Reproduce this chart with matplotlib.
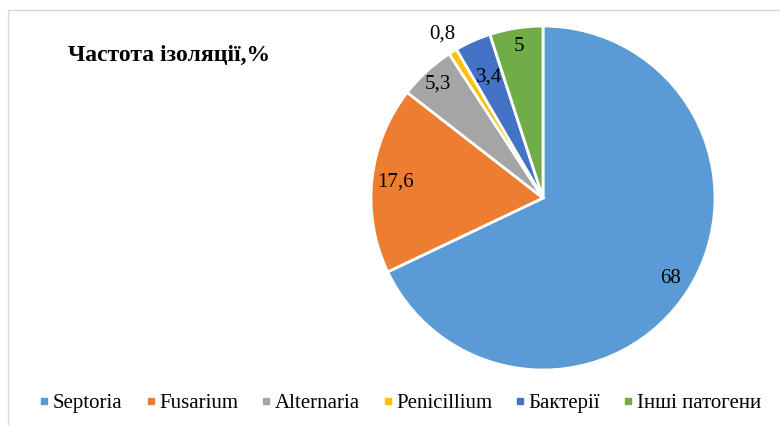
import matplotlib
matplotlib.use("Agg")
import matplotlib.pyplot as plt
from matplotlib.lines import Line2D
from matplotlib.patches import Rectangle
import numpy as np

categories = ["Septoria", "Fusarium", "Alternaria", "Penicillium", "Бактерії", "Інші патогени"]
values = [68, 17.6, 5.3, 0.8, 3.4, 5]
value_labels = ["68", "17,6", "5,3", "0,8", "3,4", "5"]
colors = ["#5B9BD5", "#ED7D31", "#A5A5A5", "#FFC000", "#4472C4", "#70AD47"]
label_dist = [0.88, 0.86, 0.90, 1.12, 0.77, 0.89]
title = "Частота ізоляції,%"

plt.rcParams['font.family'] = ['Liberation Serif', 'DejaVu Serif']

W, H = 780, 425
fig = plt.figure(figsize=(W/100, H/100), dpi=100)

# outer frame
fig.patches.append(Rectangle((8/W, -0.1), 1.2, (H-10)/H + 0.1, transform=fig.transFigure,
                             fill=False, edgecolor="#D9D9D9", linewidth=1.0))

cx, cy, r = 543, 198, 172
ax = fig.add_axes([(cx-r)/W, (H-cy-r)/H, 2*r/W, 2*r/H])
wedges, _ = ax.pie(values, colors=colors, startangle=90, counterclock=False,
                   wedgeprops=dict(edgecolor="white", linewidth=2.0))
ax.set_aspect('equal')
ax.set_xlim(-1, 1)
ax.set_ylim(-1, 1)

for w, lab, d in zip(wedges, value_labels, label_dist):
    ang = np.deg2rad((w.theta1 + w.theta2) / 2)
    ax.text(d*np.cos(ang), d*np.sin(ang), lab, ha='center', va='center', fontsize=15)

fig.text(68/W, 1 - 55/H, title, fontsize=17, fontweight='bold', ha='left', va='center')

handles = [Line2D([0], [0], marker='s', linestyle='none', markersize=4.5,
                  markerfacecolor=c, markeredgecolor=c) for c in colors]
fig.legend(handles, categories, loc='center', bbox_to_anchor=(400/W, 1 - 403/H), ncol=6,
           frameon=False, fontsize=15, handlelength=0.5, handletextpad=0.15, columnspacing=1.1)

fig.savefig("out.png", dpi=100)
